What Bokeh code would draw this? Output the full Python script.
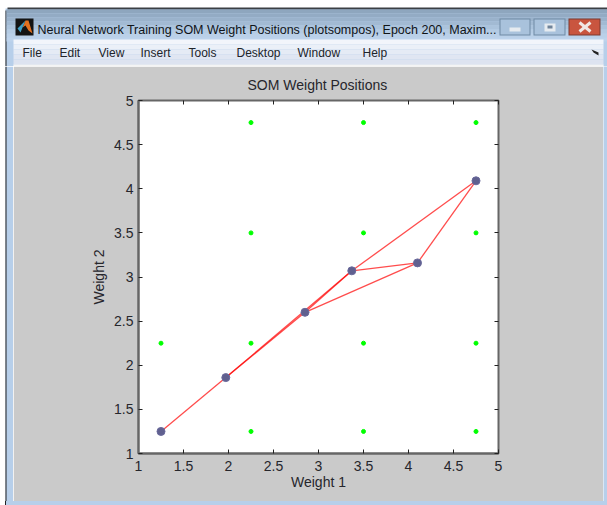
from bokeh.plotting import figure
from bokeh.embed import file_html
from bokeh.resources import INLINE
from bokeh.layouts import column, row
from bokeh.models import LinearAxis, Range1d, FixedTicker, Title, Spacer
from bokeh.core.properties import value

W, H = 607, 505
neuron_x = [1.25, 1.97, 2.85, 3.37, 4.10, 4.75]
neuron_y = [1.25, 1.86, 2.60, 3.07, 3.16, 4.09]
edges = [(0, 1), (1, 2), (1, 3), (2, 3), (2, 4), (3, 4), (4, 5), (3, 5)]
input_x = [1.25, 2.25, 2.25, 2.25, 2.25, 3.5, 3.5, 3.5, 3.5, 4.75, 4.75, 4.75, 4.75]
input_y = [2.25, 1.25, 2.25, 3.5, 4.75, 1.25, 2.25, 3.5, 4.75, 1.25, 2.25, 3.5, 4.75]
ticks = [1, 1.5, 2, 2.5, 3, 3.5, 4, 4.5, 5]
tick_labels = {1: "1", 1.5: "1.5", 2: "2", 2.5: "2.5", 3: "3", 3.5: "3.5", 4: "4", 4.5: "4.5", 5: "5"}
title_text = "SOM Weight Positions"
window_title = "Neural Network Training SOM Weight Positions (plotsompos), Epoch 200, Maxim..."
menus = ["File", "Edit", "View", "Insert", "Tools", "Desktop", "Window", "Help"]
menu_x = [22, 59, 98, 140, 188, 236, 297, 362]
FONT = "Liberation Sans"
TXT = "#26262c"
GRAY = "#cacaca"
BLUE = "#b7cfea"
EDGE = "#222222"


def strip(w, h, x0, y0, fill="white"):
    f = figure(width=w, height=h, x_range=Range1d(x0, x0 + w), y_range=Range1d(y0 + h, y0),
               output_backend="svg", toolbar_location=None, min_border=0, margin=0, frame_align=False,
               background_fill_color=fill, border_fill_color=fill, outline_line_color=None)
    f.axis.visible = False
    f.grid.visible = False
    return f


def box(f, l, r, t, b, c):
    f.quad(left=[l], right=[r], top=[t], bottom=[b], fill_color=c, line_color=None)


def button(f, l, r, fill, edge):
    box(f, l, r, 18, 35, edge)
    box(f, l + 1, r - 1, 19, 34, fill)


# window chrome: top strip
top = strip(W, 66, 0, 0)
box(top, 5, W, 8, 66, BLUE)
box(top, 7, W, 7, 9, "#3a3f44")
box(top, 5, 6, 10, 66, EDGE)
for i, c in enumerate(["#8ea6be", "#93abc4", "#9ab2cb", "#a2bad3", "#abc3dc", "#b4cbe3", "#bad0e8", "#bdd3ec"]):
    box(top, 6, W, 9 + i * 4, 13 + i * 4, c)
for i, c in enumerate(["#f2f5fb", "#ebf0f8", "#e5ebf5", "#e0e6f2", "#dde3f0", "#dbe1ee"]):
    box(top, 13, 603, 39 + i * 5, 44 + i * 5, c)
box(top, 13, 603, 64, 66, "#f4f4f4")
# application icon
box(top, 15, 33, 18, 35, "#141414")
top.patch([25, 28, 32, 28, 25, 22], [20, 20, 33, 30, 25, 27], fill_color="#e2701e", line_color=None)
top.patch([17, 25, 22, 20], [28, 20, 27, 32], fill_color="#3f9fc5", line_color=None)
# window buttons
button(top, 499, 530, "#a9c2dc", "#6f8aa5")
button(top, 533, 565, "#a9c2dc", "#6f8aa5")
button(top, 568, 600, "#c9553f", "#7d3a30")
box(top, 509, 520, 27, 31, "#e6ebf0")
box(top, 544, 555, 23, 31, "#e6ebf0")
box(top, 547, 552, 25, 28, "#6f8399")
top.multi_line([[579, 590], [579, 590]], [[22, 31], [31, 22]], line_color="#f0e8e6", line_width=3)
top.patch([591, 598, 598, 593], [49, 52, 55, 52], fill_color=EDGE, line_color=None)
top.text(x=[37], y=[29], text=[window_title], text_font=value(FONT), text_font_size="12.5px",
         text_color="#101418", text_baseline="middle")
top.text(x=menu_x, y=[52] * len(menus), text=menus, text_font=value(FONT), text_font_size="12px",
         text_color="#20242a", text_baseline="middle")

left = strip(13, 435, 0, 66)
box(left, 5, 13, 66, 501, BLUE)
box(left, 5, 6, 66, 501, EDGE)

right = strip(4, 435, 603, 66, BLUE)

bottom = row(Spacer(width=5, height=4, margin=0, styles={"background-color": "white"}),
             Spacer(width=1, height=4, margin=0, styles={"background-color": EDGE}),
             Spacer(width=601, height=4, margin=0, styles={"background-color": BLUE}), spacing=0)

# main axes
p = figure(width=590, height=435, x_range=Range1d(1, 5), y_range=Range1d(1, 5),
           output_backend="svg", toolbar_location=None, margin=0, frame_align=False,
           min_border_left=125, min_border_right=105, min_border_top=34, min_border_bottom=48,
           background_fill_color="white", border_fill_color=GRAY)
p.grid.visible = False
p.outline_line_color = "#666666"
p.outline_line_width = 2
p.xaxis.ticker = FixedTicker(ticks=ticks)
p.yaxis.ticker = FixedTicker(ticks=ticks)
p.xaxis.major_label_overrides = tick_labels
p.yaxis.major_label_overrides = tick_labels
p.xaxis.axis_label = "Weight 1"
p.yaxis.axis_label = "Weight 2"
for ax in (p.xaxis[0], p.yaxis[0]):
    ax.axis_line_color = "#666666"
    ax.axis_line_width = 2
    ax.major_tick_in = 4
    ax.major_tick_out = 0
    ax.major_tick_line_color = "#222222"
    ax.minor_tick_line_color = None
    ax.major_label_text_font = FONT
    ax.major_label_text_font_size = "14px"
    ax.major_label_text_color = TXT
    ax.axis_label_text_font = FONT
    ax.axis_label_text_font_style = "normal"
    ax.axis_label_text_font_size = "14px"
    ax.axis_label_text_color = TXT
    ax.major_label_standoff = 5
    ax.axis_label_standoff = 4
p.xaxis.major_label_standoff = 7
p.xaxis.axis_label_standoff = 0
for loc in ("right", "above"):
    a = LinearAxis(ticker=FixedTicker(ticks=ticks), major_label_text_font_size="0px", axis_line_color=None,
                   major_tick_in=4, major_tick_out=0, major_tick_line_color="#222222",
                   minor_tick_line_color=None, major_label_standoff=0)
    a.major_label_overrides = {t: "" for t in ticks}
    p.add_layout(a, loc)

t = Title(text=title_text, align="left", text_font=FONT, text_font_size="14px",
          text_font_style="normal", text_color=TXT, standoff=16, offset=109)
p.add_layout(t, "above")

# data
p.scatter(input_x, input_y, size=4, marker="circle", color="#00ff00", line_color="#00ff00")
p.multi_line([[neuron_x[a], neuron_x[b]] for a, b in edges],
             [[neuron_y[a], neuron_y[b]] for a, b in edges],
             line_color="#ff0000", line_width=1.3, line_alpha=0.7)
p.scatter(neuron_x, neuron_y, size=8, marker="circle", fill_color="#60608f", line_color="#6a6a9c", line_width=1)

layout = column(top, row(left, p, right, spacing=0), bottom, spacing=0)
open("out.html", "w").write(file_html(layout, INLINE))
